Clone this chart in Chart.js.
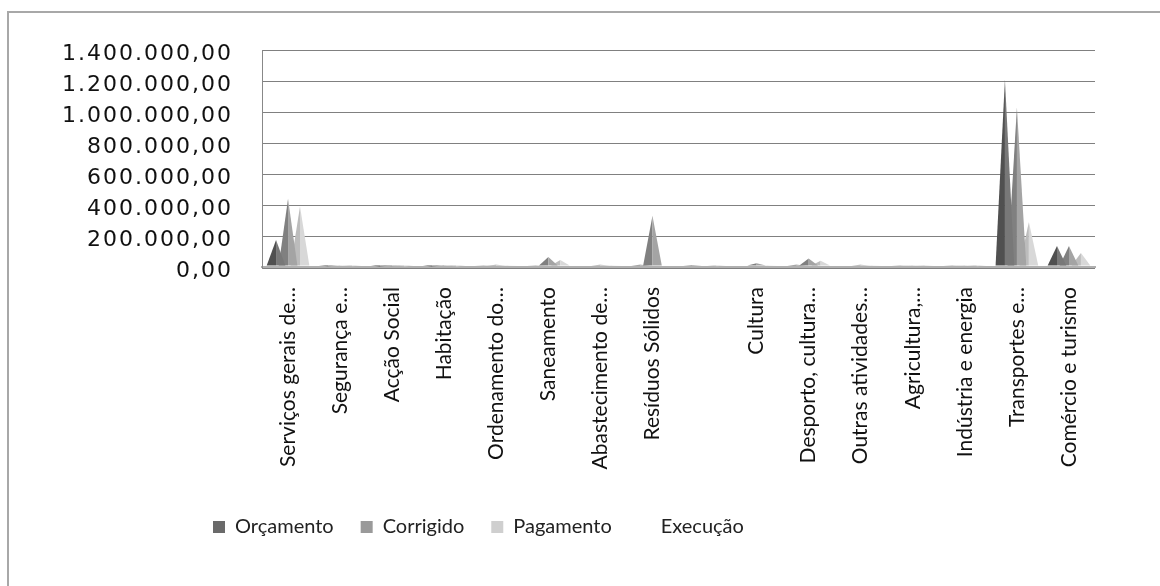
<!DOCTYPE html>
<html>
<head>
<meta charset="utf-8">
<script src="https://cdn.jsdelivr.net/npm/chart.js@4.4.1/dist/chart.umd.min.js"></script>
<style>
  html, body { margin: 0; padding: 0; background: #fff; }
  #wrap { width: 1160px; height: 586px; }
</style>
</head>
<body>
<div id="wrap"><canvas id="myChart" width="1160" height="586"></canvas></div>
<script>
// categorias (a 9a nao tem rotulo visivel)
const categorias = [
  "Serviços gerais de…", "Segurança e…", "Acção Social", "Habitação",
  "Ordenamento do…", "Saneamento", "Abastecimento de…", "Resíduos Sólidos",
  "", "Cultura", "Desporto, cultura…", "Outras atividades…",
  "Agricultura,…", "Indústria e energia", "Transportes e…", "Comércio e turismo"
];

// valores
const orcamento = [175000, 5000, 3000, 4000, 8000, 12000, 10000, 15000, 6000, 10000, 15000, 10000, 8000, 8000, 1210000, 135000];
const corrigido = [440000, 8000, 5000, 6000, 15000, 65000, 15000, 330000, 10000, 25000, 55000, 15000, 12000, 12000, 1030000, 135000];
const pagamento = [390000, 5000, 3000, 3000, 8000, 45000, 8000, 10000, 5000, 8000, 40000, 8000, 6000, 5000, 290000, 90000];
const execucao  = [0, 0, 0, 0, 0, 0, 0, 0, 0, 0, 0, 0, 0, 0, 0, 0];

const yMax = 1400000;
const yStep = 200000;

// formato 1.400.000,00
function formatoPT(v) {
  const inteiro = Math.round(v).toString().replace(/\B(?=(\d{3})+(?!\d))/g, ".");
  return inteiro + ",00";
}

// desenha as barras como piramides
const piramides = {
  id: 'piramides',
  beforeDatasetDraw(chart, args) {
    const meta = args.meta;
    if (meta.type !== 'bar') return;
    const ds = chart.data.datasets[args.index];
    const ctx = chart.ctx;
    ctx.save();
    meta.data.forEach(bar => {
      const p = bar.getProps(['x', 'y', 'base', 'width'], true);
      const half = p.width * 0.78;
      ctx.beginPath();
      ctx.moveTo(p.x - half, p.base);
      ctx.lineTo(p.x, p.y);
      ctx.lineTo(p.x, p.base);
      ctx.closePath();
      ctx.fillStyle = ds.corEsq;
      ctx.fill();
      ctx.beginPath();
      ctx.moveTo(p.x, p.base);
      ctx.lineTo(p.x, p.y);
      ctx.lineTo(p.x + half, p.base);
      ctx.closePath();
      ctx.fillStyle = ds.corDir;
      ctx.fill();
    });
    ctx.restore();
    return false;
  }
};

// moldura, posicao da legenda e espacamento dos rotulos do eixo y
const moldura = {
  id: 'moldura',
  afterLayout(chart) {
    chart.legend.left = 186;
    const y = chart.scales.y;
    if (!y._espacado) {
      const original = y.drawLabels.bind(y);
      y.drawLabels = function (area) {
        chart.ctx.save();
        chart.ctx.letterSpacing = '2px';
        original(area);
        chart.ctx.restore();
      };
      y._espacado = true;
    }
  },
  beforeDraw(chart) {
    const ctx = chart.ctx;
    ctx.save();
    ctx.strokeStyle = '#a8a8a8';
    ctx.lineWidth = 2;
    ctx.beginPath();
    ctx.moveTo(8, 586);
    ctx.lineTo(8, 12);
    ctx.lineTo(1160, 12);
    ctx.stroke();
    ctx.restore();
  }
};

const ctx = document.getElementById('myChart').getContext('2d');
const myChart = new Chart(ctx, {
  type: 'bar',
  data: {
    labels: categorias,
    datasets: [{
      label: 'Orçamento',
      data: orcamento,
      backgroundColor: '#6a6a6a',
      corEsq: '#505050',
      corDir: '#787878'
    }, {
      label: 'Corrigido',
      data: corrigido,
      backgroundColor: '#9a9a9a',
      corEsq: '#808080',
      corDir: '#a4a4a4'
    }, {
      label: 'Pagamento',
      data: pagamento,
      backgroundColor: '#cfcfcf',
      corEsq: '#bcbcbc',
      corDir: '#d8d8d8'
    }, {
      type: 'line',
      label: 'Execução',
      data: execucao,
      showLine: false,
      pointRadius: 0,
      backgroundColor: 'rgba(0,0,0,0)',
      borderColor: 'rgba(0,0,0,0)'
    }]
  },
  options: {
    responsive: false,
    animation: false,
    devicePixelRatio: 1,
    layout: { padding: { top: 50, right: 65, bottom: 39, left: 0 } },
    datasets: {
      bar: { categoryPercentage: 0.69, barPercentage: 1 }
    },
    scales: {
      x: {
        grid: { display: false },
        border: { display: true, color: '#b0b0b0', width: 2 },
        ticks: {
          autoSkip: false,
          minRotation: 90,
          maxRotation: 90,
          padding: 12,
          color: '#111',
          font: { family: 'Lato', size: 21 }
        },
        afterFit(scale) { scale.height = 223; }
      },
      y: {
        min: 0,
        max: yMax,
        grid: {
          color: '#808080',
          lineWidth: c => (c.tick && c.tick.value === 0 ? 3 : 1),
          drawTicks: false
        },
        border: { display: true, color: '#888', width: 1 },
        ticks: {
          stepSize: yStep,
          padding: 29,
          labelOffset: 4,
          color: '#111',
          font: { family: 'DejaVu Sans', size: 22 },
          callback: v => formatoPT(v)
        },
        afterFit(scale) { scale.width = 262; }
      }
    },
    plugins: {
      legend: {
        position: 'bottom',
        align: 'start',
        labels: {
          boxWidth: 12,
          boxHeight: 12,
          padding: 27,
          color: '#222',
          font: { family: 'Lato', size: 20 }
        }
      },
      tooltip: { enabled: false }
    }
  },
  plugins: [piramides, moldura]
});
</script>
</body>
</html>
